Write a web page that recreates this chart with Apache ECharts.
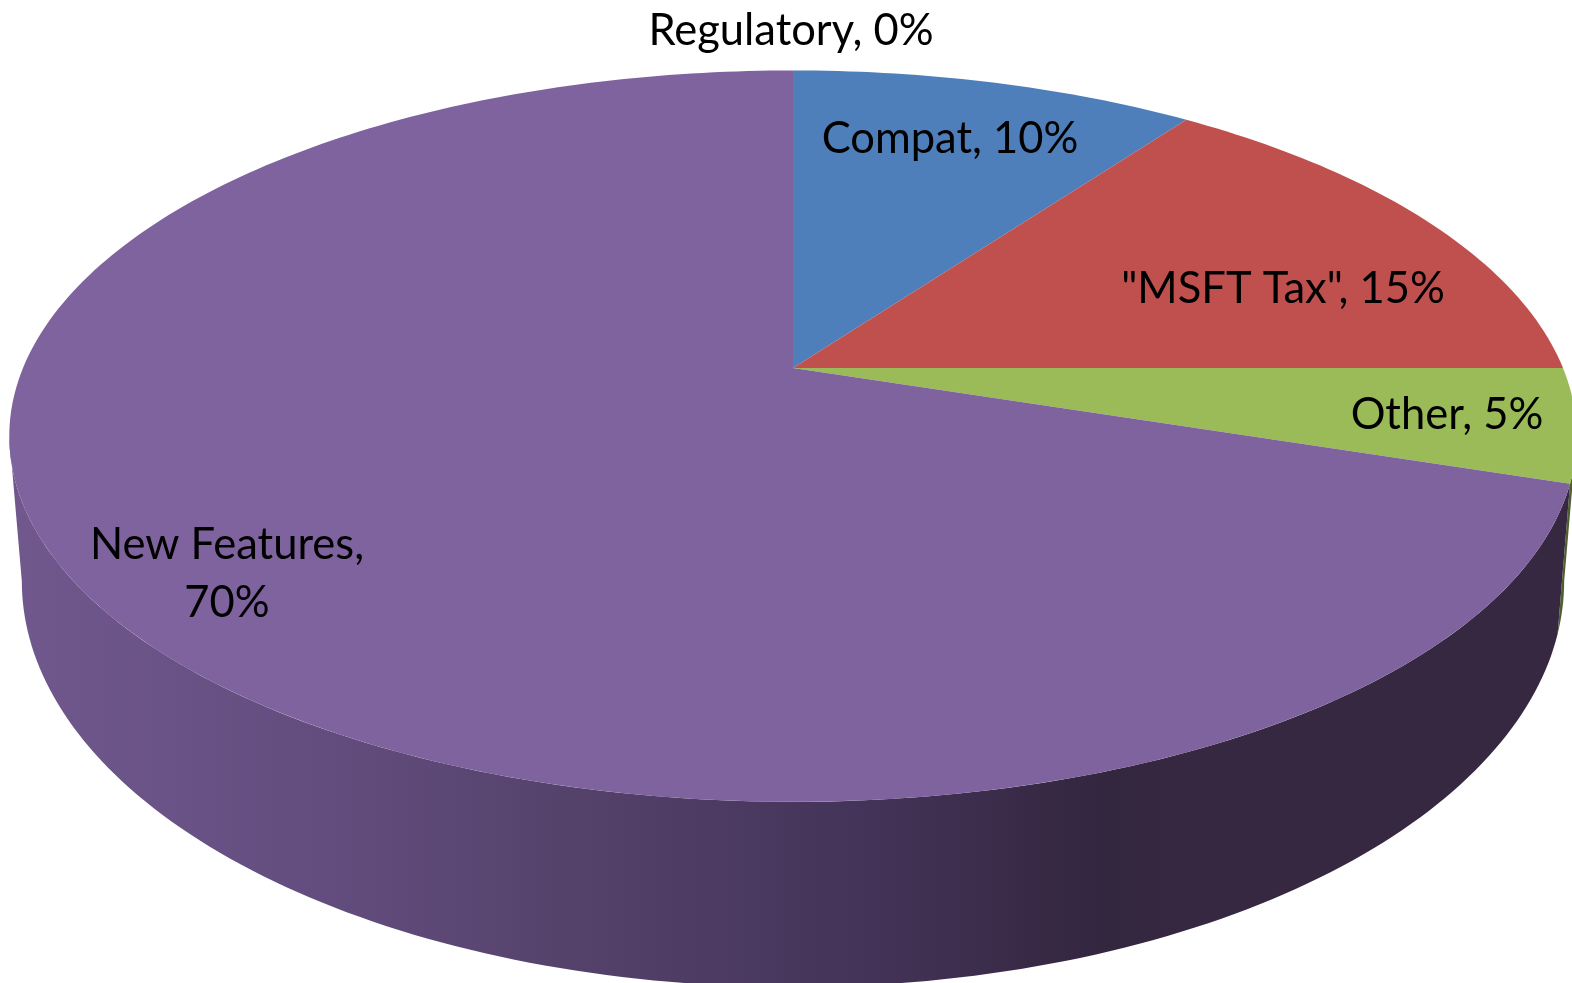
<!DOCTYPE html>
<html>
<head>
<meta charset="utf-8">
<title>Pie</title>
<script src="https://cdn.jsdelivr.net/npm/echarts@6/dist/echarts.min.js"></script>
<style>
  html, body { margin: 0; padding: 0; background: #fff; }
  #chart { width: 1572px; height: 983px; }
</style>
</head>
<body>
<div id="chart"></div>
<script>
// data
const categories = ['Regulatory', 'Compat', '"MSFT Tax"', 'Other', 'New Features']
const shares = [0, 10, 15, 5, 70]

// look
const topColors = ['#7f639e', '#4f7fba', '#bf504d', '#9bbb59', '#7f639e']
const labelCenters = [[791, 31], [950, 139], [1283, 289], [1447, 415], [227, 574]]
const labelFont = '43.5px Lato, "Open Sans", sans-serif'

// perspective disc: centre, half axes, foreshortening
const cx = 793
const cy = 368
const rx = 770
const ry = 353
const tilt = 0.1863
// the rim below the disc, as a scale around the disc's own ellipse
const midY = 436
const lowMidY = 581
const lowScaleX = 0.984
const lowScaleY = 1.11
// wall is seen between the two tangent points of the disc
const wallFrom = 100.7
const wallTo = 259.3

const project = (deg) => {
  const a = deg * Math.PI / 180
  const u = Math.sin(a)
  const v = -Math.cos(a)
  const s = 1 / (1 - tilt * v)
  return [cx + rx * u * s, cy + ry * v * s]
}

const projectLow = (deg) => {
  const p = project(deg)
  return [cx + (p[0] - cx) * lowScaleX, lowMidY + (p[1] - midY) * lowScaleY]
}

const arc = (fn, from, to) => {
  const pts = []
  const n = Math.max(2, Math.ceil(to - from))
  for (let i = 0; i <= n; i++) pts.push(fn(from + (to - from) * i / n))
  return pts
}

const total = shares.reduce((a, b) => a + b, 0)

const wallGradient = new echarts.graphic.LinearGradient(20, 0, 1200, 0, [
  { offset: 0, color: '#70588c' },
  { offset: 0.25, color: '#634d7f' },
  { offset: 0.45, color: '#56436c' },
  { offset: 0.7, color: '#45345a' },
  { offset: 0.92, color: '#33263f' },
  { offset: 1, color: '#362840' }
], true)

const renderSlice = (params, api) => {
  const i = params.dataIndex
  let before = 0
  for (let k = 0; k < i; k++) before += shares[k]
  const start = before / total * 360
  const end = (before + api.value(0)) / total * 360
  const children = []

  // side wall, only the part facing us
  const wa = Math.max(start, wallFrom)
  const wb = Math.min(end, wallTo)
  if (wb > wa) {
    const rim = arc(project, wa, wb).concat(arc(projectLow, wa, wb).reverse())
    children.push({
      type: 'polygon',
      z2: 1,
      shape: { points: rim },
      style: { fill: i === 3 ? '#4f5f2d' : wallGradient }
    })
  }

  // top face
  if (end > start) {
    children.push({
      type: 'polygon',
      z2: 10,
      shape: { points: [[cx, cy]].concat(arc(project, start, end)) },
      style: { fill: topColors[i] }
    })
  }

  const name = categories[i] === 'New Features' ? categories[i] + ',\n' : categories[i] + ', '
  children.push({
    type: 'text',
    z2: 20,
    x: labelCenters[i][0],
    y: labelCenters[i][1],
    style: {
      text: name + api.value(0) + '%',
      font: labelFont,
      fill: '#000',
      align: 'center',
      verticalAlign: 'middle',
      lineHeight: 58
    }
  })
  return { type: 'group', children }
}

const chart = echarts.init(document.getElementById('chart'))
chart.setOption({
  animation: false,
  backgroundColor: '#fff',
  series: [
    {
      type: 'custom',
      coordinateSystem: 'none',
      renderItem: renderSlice,
      data: shares.map((v, i) => ({ name: categories[i], value: [v] }))
    }
  ]
})
window.addEventListener('resize', () => {
  chart.resize()
})
</script>
</body>
</html>
